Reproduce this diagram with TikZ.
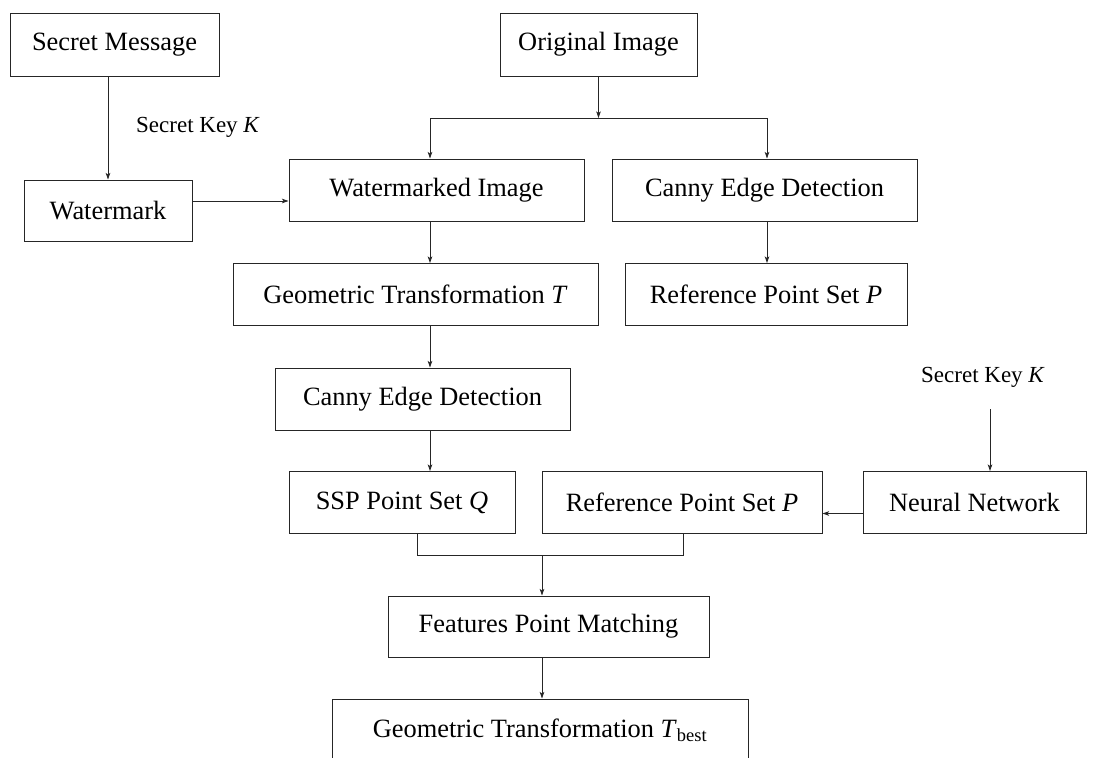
\documentclass[tikz,border=0pt]{standalone}
\usepackage{fontspec}
\setmainfont{Liberation Serif}
\usetikzlibrary{arrows.meta}
\begin{document}
\begin{tikzpicture}[x=1pt,y=-1pt,
  box/.style={draw=black!85,line width=1pt,rectangle,inner sep=0pt,
    font=\fontsize{26.4}{30}\selectfont},
  lbl/.style={inner sep=0pt,font=\fontsize{23}{26}\selectfont},
  arr/.style={draw=black!85,line width=0.9pt,-{Stealth[length=6.5pt,width=4.5pt,inset=1.5pt]}},
  ln/.style={draw=black!85,line width=0.9pt}]
\clip (0,0) rectangle (1096,758);
\fill[white] (0,0) rectangle (1096,758);
% nodes
\node[box,minimum width=209pt,minimum height=63pt] (sm) at (114.5,44.5) {Secret Message};
\node[box,minimum width=197pt,minimum height=63pt] (oi) at (598.5,44.5) {Original Image};
\node[box,minimum width=168pt,minimum height=61pt] (wm) at (108,210.5) {Watermark};
\node[box,minimum width=295pt,minimum height=62pt] (wi) at (436.5,190) {Watermarked Image};
\node[box,minimum width=305pt,minimum height=62pt] (ce1) at (764.5,190) {Canny Edge Detection};
\node[box,minimum width=365pt,minimum height=62pt] (gt) at (415.5,294.5) {Geometric Transformation \textit{T}};
\node[box,minimum width=282pt,minimum height=62pt] (rp1) at (766,294.5) {Reference Point Set \textit{P}};
\node[box,minimum width=295pt,minimum height=62pt] (ce2) at (422.5,399) {Canny Edge Detection};
\node[box,minimum width=226pt,minimum height=62pt] (ssp) at (402,502.5) {SSP Point Set \textit{Q}};
\node[box,minimum width=280pt,minimum height=62pt] (rp2) at (682,502.5) {Reference Point Set \textit{P}};
\node[box,minimum width=223pt,minimum height=62pt] (nn) at (974.5,502.5) {Neural Network};
\node[box,minimum width=321pt,minimum height=61pt] (fpm) at (548.5,626.5) {Features Point Matching};
\node[box,minimum width=416pt,minimum height=62pt] (tb) at (540,730) {Geometric Transformation \textit{T}\textsubscript{best}};
\node[lbl] (kl) at (198,127) {Secret Key \textit{K}};
\node[lbl] (kr) at (983,377) {Secret Key \textit{K}};
% helper coordinates
\coordinate (x430) at (430,0);
\coordinate (x767) at (767,0);
\coordinate (x417) at (417,0);
\coordinate (x683) at (683,0);
\coordinate (x542) at (542,0);
\coordinate (x990) at (990,0);
\coordinate (j1) at (598.5,118);
\coordinate (j2) at (542,555.5);
\coordinate (ks) at (990,409);
% connectors
\draw[arr] (sm.south -| wm.north) -- (wm.north);
\draw[arr] ([yshift=9.5pt]wm.east) -- ([yshift=9.5pt]wm.east -| wi.west);
\draw[arr] (oi.south) -- (j1);
\draw[arr] (j1) -| (wi.north -| x430);
\draw[arr] (j1) -| (ce1.north -| x767);
\draw[arr] (wi.south -| x430) -- (gt.north -| x430);
\draw[arr] (ce1.south -| x767) -- (rp1.north -| x767);
\draw[arr] (gt.south -| x430) -- (ce2.north -| x430);
\draw[arr] (ce2.south -| x430) -- (ssp.north -| x430);
\draw[ln] (ssp.south -| x417) -- (j2 -| x417) -- (j2 -| x683) -- (rp2.south -| x683);
\draw[arr] (j2) -- (fpm.north -| x542);
\draw[arr] ([yshift=-11pt]nn.west) -- ([yshift=-11pt]rp2.east);
\draw[arr] (ks) -- (nn.north -| x990);
\draw[arr] (fpm.south -| x542) -- (tb.north -| x542);
\end{tikzpicture}
\end{document}
